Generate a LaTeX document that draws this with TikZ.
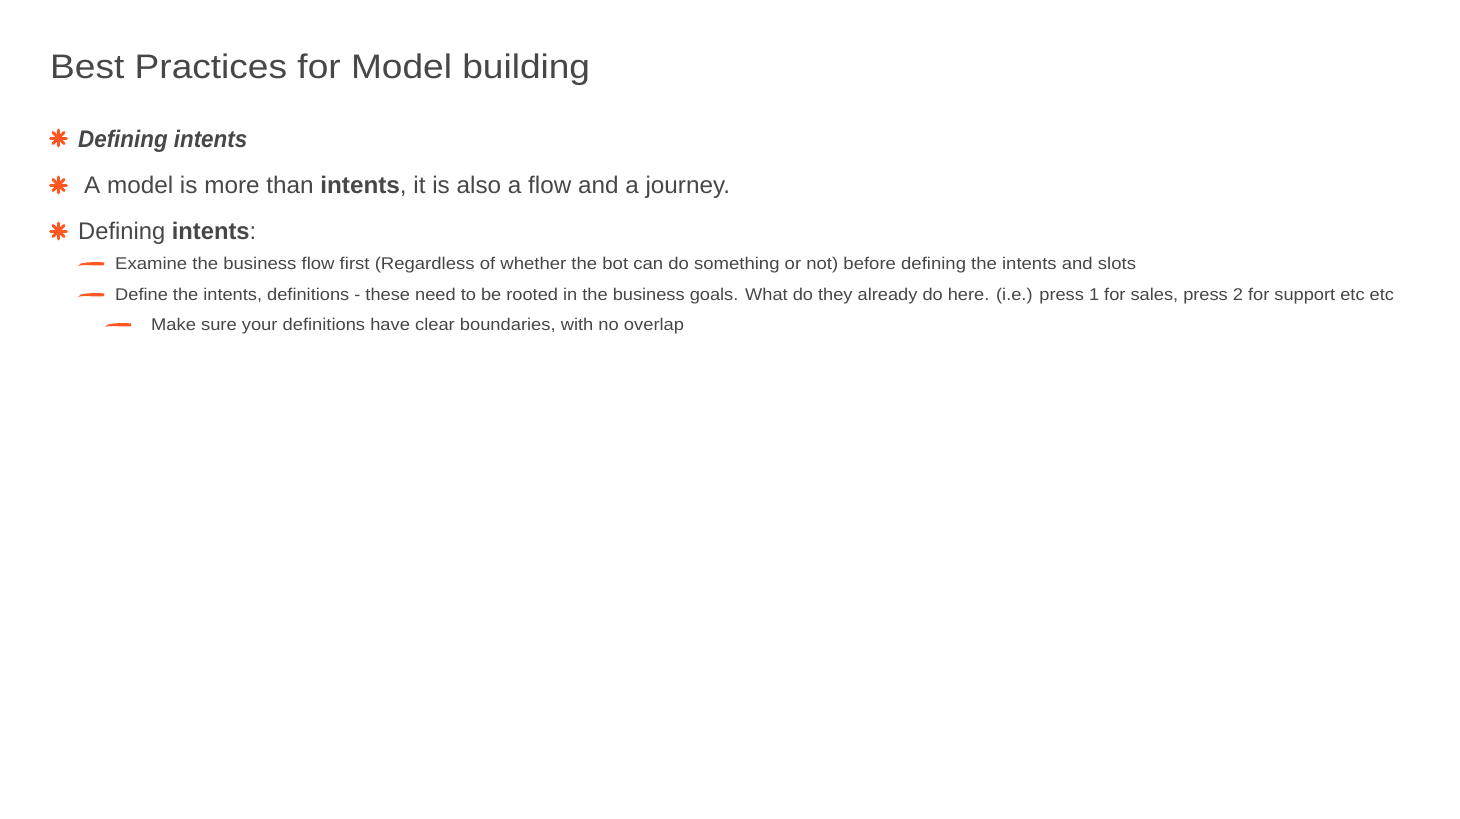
\documentclass[tikz,border=0pt]{standalone}
\usepackage{fontspec}
\setmainfont{Liberation Sans}
\usepackage{graphicx}
\definecolor{txt}{HTML}{474747}
\definecolor{org}{HTML}{FF5722}
\newsavebox\fitbox
\newcommand\fitw[2]{\sbox\fitbox{#2}\pgfmathsetmacro\fitsx{#1/\the\wd\fitbox}\scalebox{\fitsx}[1]{\usebox\fitbox}}
\tikzset{
  txtline/.style={anchor=base west, inner sep=0pt, text=txt},
  star/.pic={\foreach \a in {0,45,90,135}{\draw[org, line width=3pt, line cap=round] (\a:7.8pt) -- (\a+180:7.8pt);}},
  brush/.pic={\fill[org] (-13pt,-1.8pt) .. controls (-7pt,-0.2pt) and (3pt,-2pt) .. (13pt,-1.2pt) -- (13pt,1.6pt) .. controls (4pt,2.2pt) and (-6pt,1.8pt) .. (-10pt,0.4pt) .. controls (-11.5pt,-0.2pt) .. (-13pt,-1.8pt) -- cycle;}
}
\begin{document}
\begin{tikzpicture}[x=1pt,y=-1pt]
\useasboundingbox[fill=white] (0,0) rectangle (1460,819);
\node[txtline, font=\fontsize{34}{40}\selectfont] (title) at (50,78) {\fitw{540}{Best Practices for Model building}};
\pic at (58.5,138) {star};
\node[txtline, font=\fontsize{24}{28}\selectfont\bfseries\itshape] (l1) at (78,147) {\fitw{169}{Defining intents}};
\pic at (58.5,185) {star};
\node[txtline, font=\fontsize{24}{28}\selectfont] (l2) at (84,193) {\fitw{646}{A model is more than \textbf{intents}, it is also a flow and a journey.}};
\pic at (58.5,231) {star};
\node[txtline, font=\fontsize{24}{28}\selectfont] (l3) at (78,239) {\fitw{178}{Defining \textbf{intents}:}};
\pic at (91,264) {brush};
\node[txtline, font=\fontsize{17}{20}\selectfont] (s1) at (115,269.5) {\fitw{1021}{Examine the business flow first (Regardless of whether the bot can do something or not) before defining the intents and slots}};
\pic at (91,295) {brush};
\node[txtline, font=\fontsize{17}{20}\selectfont] (s2) at (115,300.5) {\fitw{1279}{Define the intents, definitions - these need to be rooted in the business goals. What do they already do here. (i.e.) press 1 for sales, press 2 for support etc etc}};
\pic at (118,325) {brush};
\node[txtline, font=\fontsize{17}{20}\selectfont] (ss1) at (151,330.5) {\fitw{533}{Make sure your definitions have clear boundaries, with no overlap}};
\end{tikzpicture}
\end{document}
